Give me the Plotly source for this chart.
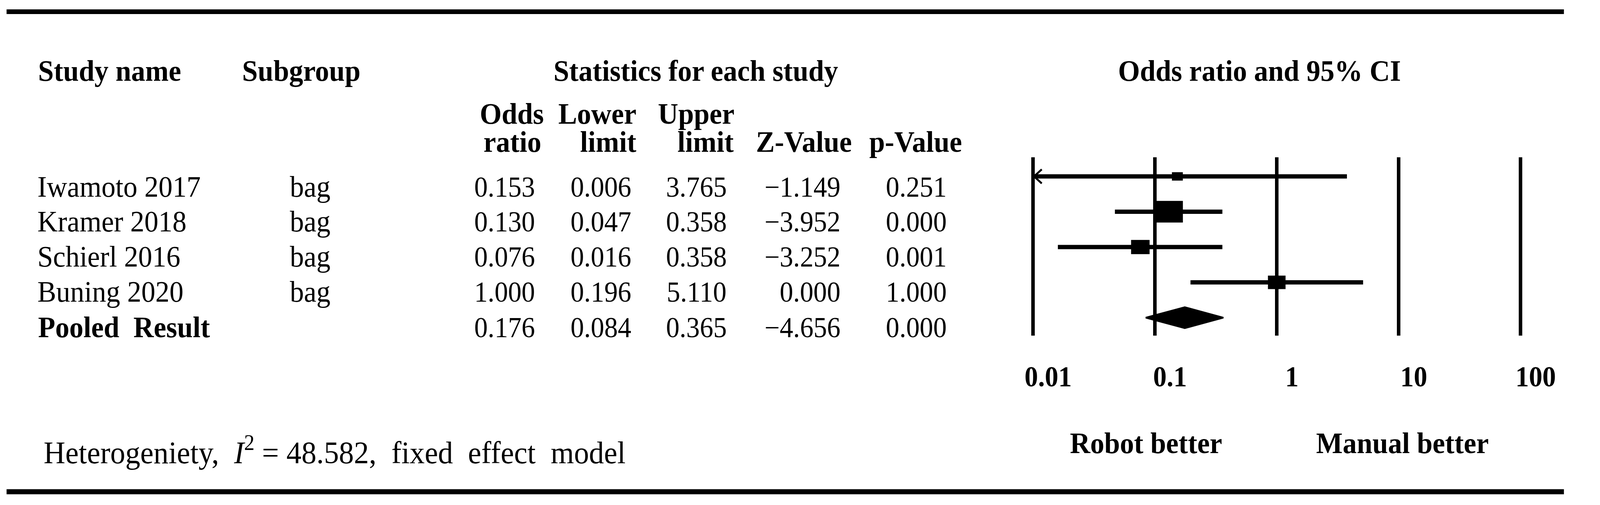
import math
import plotly.graph_objects as go

# ---------------- data ----------------
studies = ["Iwamoto 2017", "Kramer 2018", "Schierl 2016", "Buning 2020"]
subgroups = ["bag", "bag", "bag", "bag"]
odds_ratio = [0.153, 0.130, 0.076, 1.000]
lower_limit = [0.006, 0.047, 0.016, 0.196]
upper_limit = [3.765, 0.358, 0.358, 5.110]
z_value = [-1.149, -3.952, -3.252, 0.000]
p_value = [0.251, 0.000, 0.001, 1.000]
rel_weight = [5.2, 52.3, 22.3, 20.2]   # % weight (box size)

pooled_label = "Pooled\u00a0\u00a0Result"
pooled_or = 0.176
pooled_lower = 0.084
pooled_upper = 0.365
pooled_z = -4.656
pooled_p = 0.000

i_squared = 48.582
axis_ticks = [0.01, 0.1, 1, 10, 100]
axis_ticktext = ["0.01", "0.1", "1", "10", "100"]
left_label = "Robot better"
right_label = "Manual better"

# ---------------- layout constants ----------------
W, H = 4322, 1294
FONT = "Liberation Serif"
F_TXT = 76
F_NUM = 73
BLACK = "#000000"

X_LO, X_HI = -2.1, 2.1          # log10 range of forest axis
PX_DEC = 334.0                   # px per decade
X_CENTER = 3499.0
ROW0_PX, ROW_PX = 452.0, 90.5    # forest row pixel positions
PLOT_TOP, PLOT_BOT = 403.0, 860.0


def fx(px):
    return px / W


def fy(py):
    return 1 - py / H


def fmt(v):
    s = f"{v:.3f}"
    return s.replace("-", "\u2212")


annotations = []


def text(s, x, baseline, anchor="left", size=F_TXT, bold=False):
    t = f"<b>{s}</b>" if bold else s
    annotations.append(dict(
        text=t, x=fx(x), y=fy(baseline - 0.3375 * size),
        xref="paper", yref="paper", xanchor=anchor, yanchor="middle",
        align=anchor if anchor != "center" else "center",
        showarrow=False, font=dict(family=FONT, size=size, color=BLACK)))


# headers
text("Study name", 102, 207, bold=True)
text("Subgroup", 661, 207, bold=True)
text("Statistics for each study", 1907, 207, "center", bold=True)
text("Odds ratio and 95% CI", 3452, 207, "center", bold=True)

hdr1 = ["Odds", "Lower", "Upper"]
hdr1_right = [1492, 1746, 2015]
hdr2 = ["ratio", "limit", "limit", "Z-Value", "p-Value"]
hdr2_right = [1485, 1746, 2013, 2337, 2639]
for s, x in zip(hdr1, hdr1_right):
    text(s, x, 317, "right", bold=True)
for s, x in zip(hdr2, hdr2_right):
    text(s, x, 389, "right", bold=True)

row_base = [504, 593, 683, 773, 864]
num_right = [1468, 1732, 1994, 2305, 2596]
for i, name in enumerate(studies):
    text(name, 100, row_base[i])
    text(subgroups[i], 792, row_base[i])
    vals = [odds_ratio[i], lower_limit[i], upper_limit[i], z_value[i], p_value[i]]
    for v, x in zip(vals, num_right):
        text(fmt(v), x, row_base[i], "right", size=F_NUM)

text(pooled_label, 102, row_base[4], bold=True)
for v, x in zip([pooled_or, pooled_lower, pooled_upper, pooled_z, pooled_p], num_right):
    text(fmt(v), x, row_base[4], "right", size=F_NUM)

text(f"Heterogeniety,\u00a0 <i>I</i><sup>2</sup> = {i_squared:.3f},\u00a0 fixed\u00a0 effect\u00a0 model",
     118, 1181, size=81)
text(left_label, 3141, 1161, "center", bold=True)
text(right_label, 3843, 1161, "center", bold=True)

# ---------------- forest plot ----------------
fig = go.Figure()
n = len(studies)
rows = list(range(n))
pooled_row = n

x_min_val = 10 ** math.ceil(X_LO)  # lowest tick shown (0.01)

# CI lines
for i in rows:
    lo = max(lower_limit[i], x_min_val)
    fig.add_trace(go.Scatter(x=[lo, upper_limit[i]], y=[i, i], mode="lines",
                             line=dict(color=BLACK, width=11), hoverinfo="skip",
                             showlegend=False))
    if lower_limit[i] < x_min_val:
        dx = 10 ** (24 / PX_DEC)
        dy = 18 / ROW_PX
        fig.add_trace(go.Scatter(x=[x_min_val * dx, x_min_val * 1.02, x_min_val * dx],
                                 y=[i - dy, i, i + dy], mode="lines",
                                 line=dict(color=BLACK, width=5), hoverinfo="skip",
                                 showlegend=False))

# weight boxes
for i in rows:
    h_px = max(7.6 * math.sqrt(rel_weight[i]), 21)
    w_px = 1.4 * h_px
    hx = 10 ** (w_px / 2 / PX_DEC)
    hy = h_px / 2 / ROW_PX
    o = odds_ratio[i]
    fig.add_trace(go.Scatter(x=[o / hx, o * hx, o * hx, o / hx, o / hx],
                             y=[i - hy, i - hy, i + hy, i + hy, i - hy],
                             mode="lines", fill="toself", fillcolor=BLACK,
                             line=dict(color=BLACK, width=0.5), hoverinfo="skip",
                             showlegend=False))

# pooled diamond
dh = 27 / ROW_PX
fig.add_trace(go.Scatter(x=[pooled_lower, pooled_or, pooled_upper, pooled_or, pooled_lower],
                         y=[pooled_row, pooled_row - dh, pooled_row, pooled_row + dh, pooled_row],
                         mode="lines", fill="toself", fillcolor=BLACK,
                         line=dict(color=BLACK, width=4), hoverinfo="skip",
                         showlegend=False))

x_left_px = X_CENTER + X_LO * PX_DEC
x_right_px = X_CENTER + X_HI * PX_DEC
y_top_row = (PLOT_TOP - ROW0_PX) / ROW_PX
y_bot_row = (PLOT_BOT - ROW0_PX) / ROW_PX

shapes = [
    dict(type="line", xref="paper", yref="paper", x0=fx(18), x1=fx(4286),
         y0=fy(30), y1=fy(30), line=dict(color=BLACK, width=12)),
    dict(type="line", xref="paper", yref="paper", x0=fx(18), x1=fx(4286),
         y0=fy(1260), y1=fy(1260), line=dict(color=BLACK, width=13)),
]

fig.update_layout(
    width=W, height=H, autosize=False,
    margin=dict(l=0, r=0, t=0, b=0, pad=0),
    paper_bgcolor="white", plot_bgcolor="white",
    showlegend=False,
    font=dict(family=FONT, color=BLACK),
    xaxis=dict(type="log", range=[X_LO, X_HI],
               domain=[fx(x_left_px), fx(x_right_px)],
               tickmode="array", tickvals=axis_ticks, ticktext=axis_ticktext,
               showgrid=True, gridcolor=BLACK, gridwidth=10,
               showline=False, zeroline=False, ticks="",
               tickfont=dict(family=FONT, size=F_NUM, color=BLACK, weight="bold"),
               ticklabelshift=41, ticklabelstandoff=56, fixedrange=True),
    yaxis=dict(range=[y_bot_row, y_top_row],
               domain=[fy(PLOT_BOT), fy(PLOT_TOP)],
               showgrid=False, zeroline=False, showticklabels=False,
               showline=False, ticks="", fixedrange=True),
    annotations=annotations,
    shapes=shapes,
)

# stretch the fixed-size figure so it exactly fills the viewport it is opened in
fit_js = """
(function(){
  var gd = document.getElementById('{plot_id}');
  document.documentElement.style.margin = '0';
  document.body.style.margin = '0';
  document.body.style.overflow = 'hidden';
  var sx = window.innerWidth / %d, sy = window.innerHeight / %d;
  gd.style.transformOrigin = '0 0';
  gd.style.transform = 'scale(' + sx + ',' + sy + ')';
})();
""" % (W, H)

fig.write_html("out.html", post_script=fit_js,
               config={"displayModeBar": False, "staticPlot": True})
